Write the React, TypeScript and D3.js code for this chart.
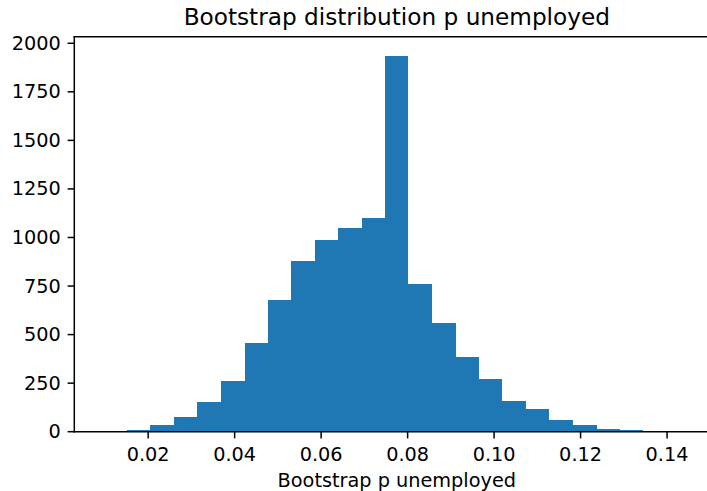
import React from "react";
import * as d3 from "d3";

// Histogram bin edges (data units) and counts
const binEdges = [
  0.0097, 0.0151, 0.0205, 0.026, 0.0314, 0.0368, 0.0423, 0.0477, 0.0531, 0.0585,
  0.064, 0.0694, 0.0748, 0.0802, 0.0857, 0.0911, 0.0965, 0.1019, 0.1074, 0.1128,
  0.1182, 0.1237, 0.1291, 0.1345, 0.1399, 0.1453,
];
const counts = [
  5, 9, 34, 76, 153, 261, 456, 677, 878, 986, 1047, 1099, 1937, 759, 559, 384,
  271, 158, 117, 60, 34, 15, 9, 3, 1,
];
const xTicks = [0.02, 0.04, 0.06, 0.08, 0.1, 0.12, 0.14];
const yTicks = [0, 250, 500, 750, 1000, 1250, 1500, 1750, 2000];
const title = "Bootstrap distribution p unemployed";
const xLabel = "Bootstrap p unemployed";

const W = 707;
const H = 491;
const left = 74.3;
const right = 719.3;
const top = 36.7;
const bottom = 431.7;
const font = "DejaVu Sans, sans-serif";
const fs = 19.3;

export default function App() {
  const lo = binEdges[0];
  const hi = binEdges[binEdges.length - 1];
  const pad = (hi - lo) * 0.05;
  const x = d3.scaleLinear().domain([lo - pad, hi + pad]).range([left, right]);
  const maxC = d3.max(counts) as number;
  const y = d3.scaleLinear().domain([0, maxC * 1.05]).range([bottom, top]);
  const fmt = d3.format(".2f");
  const cx = (left + right) / 2;
  const tick = 6.7;
  const sw = 1.5;

  return (
    <div style={{ position: "absolute", left: 0, top: 0, width: W, height: H, overflow: "hidden" }}>
      <svg width={W} height={H} style={{ display: "block", background: "#fff" }}>
        <g shapeRendering="crispEdges">
          {counts.map((c, i) => (
            <rect
              key={i}
              x={x(binEdges[i])}
              y={y(c)}
              width={x(binEdges[i + 1]) - x(binEdges[i])}
              height={bottom - y(c)}
              fill="#1f77b4"
            />
          ))}
        </g>
        {/* spines */}
        <g stroke="#000" strokeWidth={sw} fill="none" strokeLinecap="square">
          <line x1={left} y1={top} x2={left} y2={bottom} />
          <line x1={left} y1={bottom} x2={right} y2={bottom} />
          <line x1={left} y1={top} x2={right} y2={top} />
          <line x1={right} y1={top} x2={right} y2={bottom} />
        </g>
        {/* ticks and labels */}
        <g fontFamily={font} fontSize={fs} fill="#000">
          {yTicks.map((t) => (
            <g key={t}>
              <line x1={left - tick} x2={left} y1={y(t)} y2={y(t)} stroke="#000" strokeWidth={sw} />
              <text x={left - tick - 6.7} y={y(t)} textAnchor="end" dominantBaseline="central">
                {t}
              </text>
            </g>
          ))}
          {xTicks.map((t) => (
            <g key={t}>
              <line x1={x(t)} x2={x(t)} y1={bottom} y2={bottom + tick} stroke="#000" strokeWidth={sw} />
              <text x={x(t)} y={460.8} textAnchor="middle">
                {fmt(t)}
              </text>
            </g>
          ))}
          <text x={cx} y={486.8} textAnchor="middle">
            {xLabel}
          </text>
          <text x={cx} y={25} textAnchor="middle" fontSize={23.2}>
            {title}
          </text>
        </g>
      </svg>
    </div>
  );
}
